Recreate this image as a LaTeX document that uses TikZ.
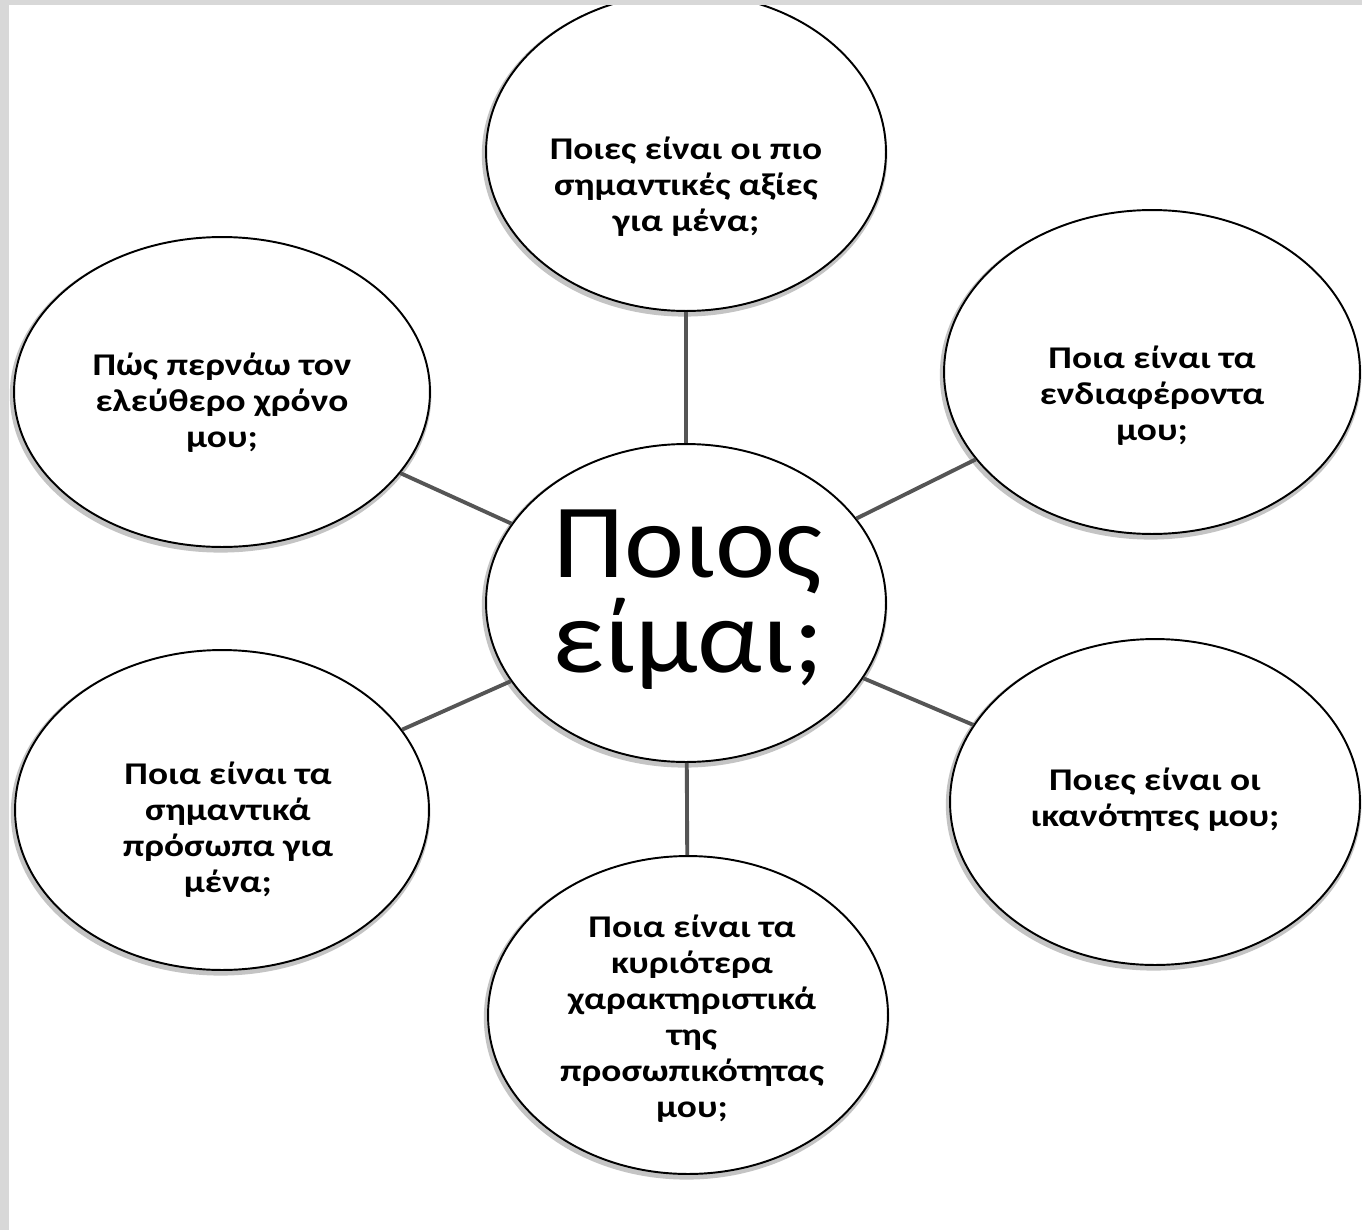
\documentclass[tikz,border=0pt]{standalone}
\usepackage{fontspec}
\setmainfont{Carlito}
\usetikzlibrary{shapes.geometric}

\definecolor{framegrey}{HTML}{D8D8D8}
\definecolor{linkgrey}{HTML}{555555}
\definecolor{scangrey}{HTML}{C4C4C4}

\begin{document}
\begin{tikzpicture}[x = 0.02cm, y = -0.02cm,
		bubble/.style = {ellipse, draw = black, line width = 1.1pt, fill = white, inner sep = 0pt, minimum width = 8cm, minimum height = 6.36cm,
			preaction = {draw = scangrey, line width = 3.2pt, transform canvas = {shift = {(-0.8pt, -1.6pt)}}}},
		txt/.style = {align = center, font = \fontsize{18}{20.5}\selectfont\bfseries, xscale = 1.18, transform shape},
		link/.style = {linkgrey, line width = 2.2pt}]
							\useasboundingbox (0, 0) rectangle (1362, 1230);
							\fill [white] (0, 0) rectangle (1362, 1230);
							\node [bubble] (who) at (686, 603) {};
							\node [bubble] (values) at (686, 152) {};
							\node [bubble, minimum width = 8.32cm, minimum height = 6.2cm] (freetime) at (222, 392) {};
							\node [bubble, minimum width = 8.32cm, minimum height = 6.48cm] (interests) at (1152, 372) {};
							\node [bubble, minimum width = 8.28cm, minimum height = 6.4cm] (people) at (222, 810) {};
							\node [bubble, minimum width = 8.2cm, minimum height = 6.52cm] (skills) at (1155, 802) {};
							\node [bubble] (traits) at (688, 1015) {};
							\draw [link] (who) -- (values);
							\draw [link] (who) -- (freetime);
							\draw [link] (who) -- (interests);
							\draw [link] (who) -- (people);
							\draw [link] (who) -- (skills);
							\draw [link] (who) -- (traits);
							\node [align = center, font = \fontsize{60}{54}\selectfont, xscale = 1.08, transform shape] (who-txt) at (688, 600) {Ποιος\\είμαι;};
							\node [txt] (values-txt) at (686, 187) {Ποιες είναι οι πιο\\σημαντικές αξίες\\για μένα;};
							\node [txt] (freetime-txt) at (222, 403) {Πώς περνάω τον\\ελεύθερο χρόνο\\μου;};
							\node [txt] (interests-txt) at (1152, 396) {Ποια είναι τα\\ενδιαφέροντα\\μου;};
							\node [txt] (people-txt) at (228, 830) {Ποια είναι τα\\σημαντικά\\πρόσωπα για\\μένα;};
							\node [txt] (skills-txt) at (1155, 800) {Ποιες είναι οι\\ικανότητες μου;};
							\node [txt] (traits-txt) at (692, 1019) {Ποια είναι τα\\κυριότερα\\χαρακτηριστικά\\της\\προσωπικότητας\\μου;};
							\fill [framegrey] (0, 0) rectangle (9, 1230);
							\fill [framegrey] (0, 0) rectangle (1362, 5);
						\end{tikzpicture}
\end{document}
